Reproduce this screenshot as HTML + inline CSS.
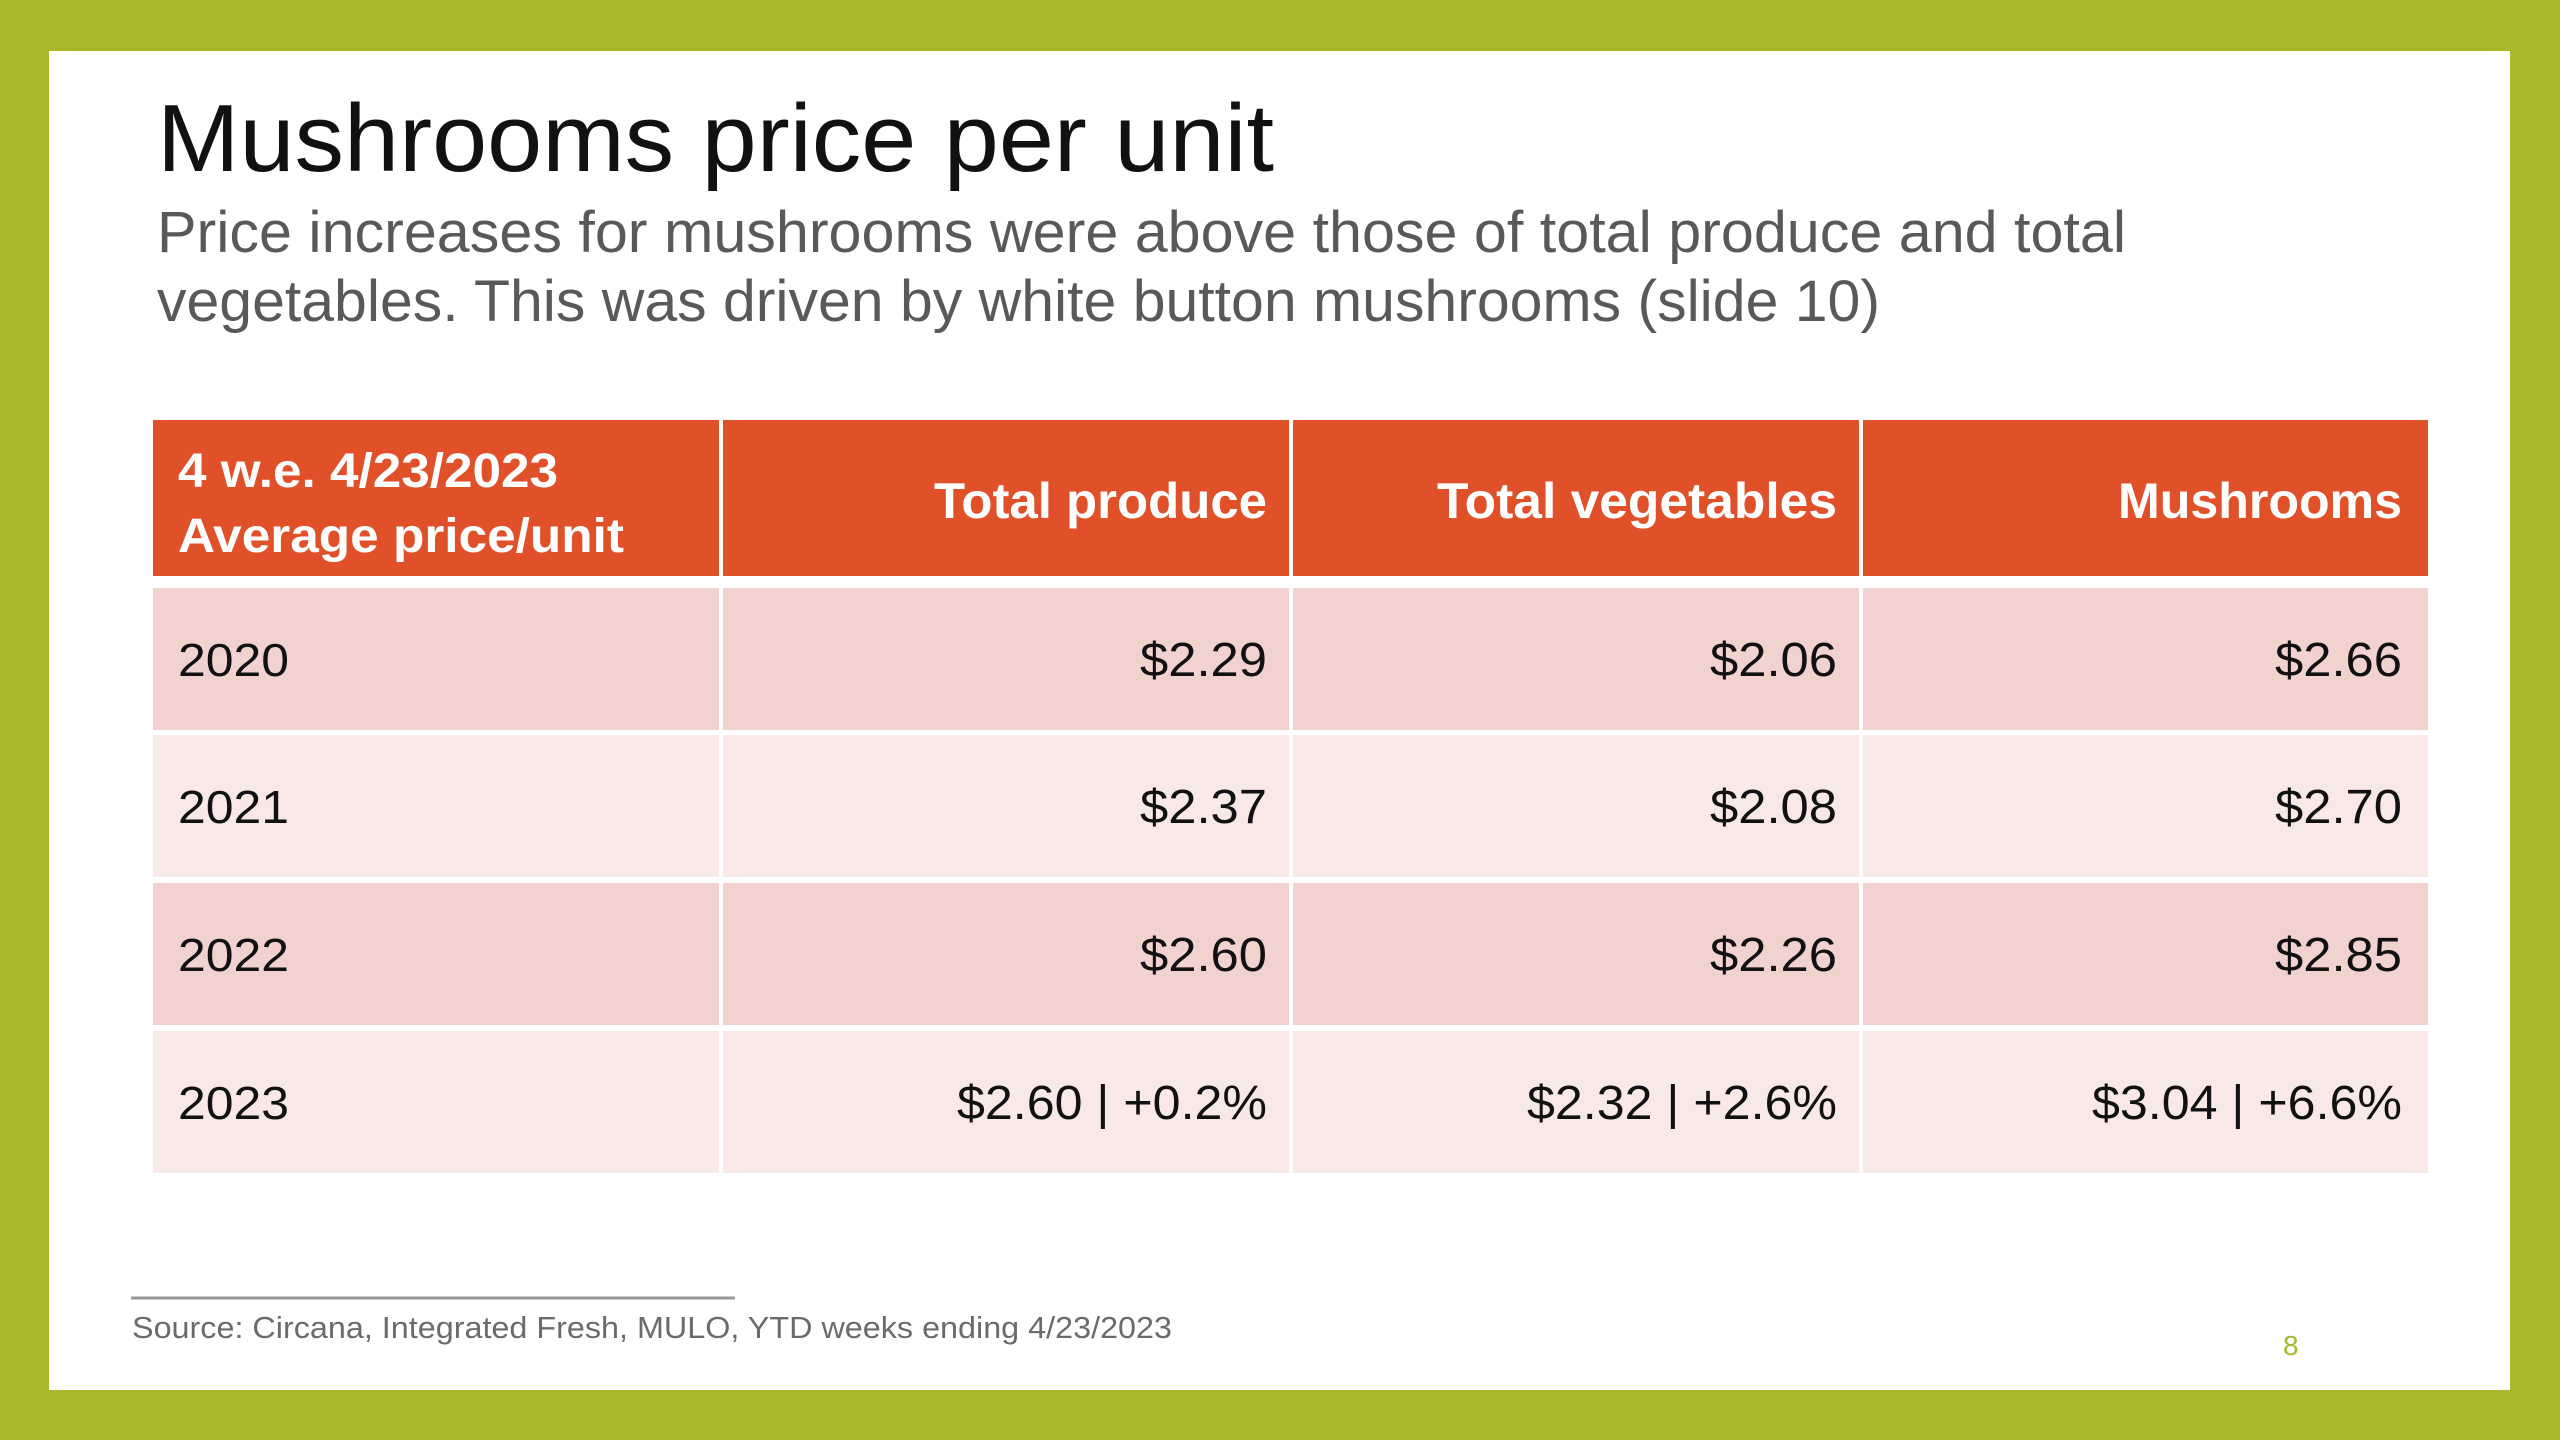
<!DOCTYPE html>
<html><head><meta charset="utf-8"><style>
html,body{margin:0;padding:0;background:#a8b82a;}
svg{display:block;font-family:"Liberation Sans",sans-serif;}
</style></head><body>
<svg id="slide" width="2560" height="1440" viewBox="0 0 2560 1440">
<rect x="0" y="0" width="2560" height="1440" fill="#a8b82a"/>
<rect x="49" y="51" width="2461" height="1339" fill="#ffffff"/>
<text x="157" y="171" font-size="96" fill="#111" textLength="1117" lengthAdjust="spacingAndGlyphs">Mushrooms price per unit</text>
<text x="157" y="252" font-size="58" fill="#595959" textLength="1969" lengthAdjust="spacingAndGlyphs">Price increases for mushrooms were above those of total produce and total</text>
<text x="157" y="321" font-size="58" fill="#595959" textLength="1723" lengthAdjust="spacingAndGlyphs">vegetables. This was driven by white button mushrooms (slide 10)</text>
<g id="table"></g>
<line x1="131" y1="1298" x2="735" y2="1298" stroke="#999" stroke-width="3"/>
<text x="132" y="1338" font-size="31" fill="#6b6b6b" textLength="1040" lengthAdjust="spacingAndGlyphs">Source: Circana, Integrated Fresh, MULO, YTD weeks ending 4/23/2023</text>
<text x="2283" y="1355" font-size="28" fill="#a8b82a">8</text>
</svg>
<script>
const columns = ["Total produce", "Total vegetables", "Mushrooms"];
const years = ["2020", "2021", "2022", "2023"];
const produce = ["$2.29", "$2.37", "$2.60", "$2.60 | +0.2%"];
const vegetables = ["$2.06", "$2.08", "$2.26", "$2.32 | +2.6%"];
const mushrooms = ["$2.66", "$2.70", "$2.85", "$3.04 | +6.6%"];

const NS = "http://www.w3.org/2000/svg";
const g = document.getElementById("table");
const colX = [153, 723, 1293, 1863, 2428];
const headTop = 420, headBot = 576;
const rowTops = [588, 735, 883, 1031];
const rowH = 142;
function mk(tag, attrs) { const e = document.createElementNS(NS, tag); for (const k in attrs) e.setAttribute(k, attrs[k]); g.appendChild(e); return e; }
function textW(s, size) { let w = 0; for (const c of s) { w += (c === ' ' ? 0.26 : c === '|' ? 0.3 : c === '.' ? 0.26 : c === '%' ? 0.8 : c === '+' ? 0.55 : 0.54); } return w * size; }
// header
for (let c = 0; c < 4; c++) {
  const r = mk("rect", { x: colX[c], y: headTop, width: colX[c + 1] - colX[c] - (c < 3 ? 4 : 0), height: headBot - headTop, fill: "#e0512a" });
  
  
}
let t = mk("text", { x: 178, y: 487, "font-size": 48, "font-weight": "bold", fill: "#fff", textLength: 380, lengthAdjust: "spacingAndGlyphs" });
t.textContent = "4 w.e. 4/23/2023";


t = mk("text", { x: 178, y: 552, "font-size": 48, "font-weight": "bold", fill: "#fff", textLength: 446, lengthAdjust: "spacingAndGlyphs" });
t.textContent = "Average price/unit";


const headW = [333, 400, 284];
columns.forEach((name, i) => {
  const tx = mk("text", { x: colX[i + 2] - 26 - (i === 2 ? 0 : 0), y: 518, "font-size": 50, "font-weight": "bold", fill: "#fff", "text-anchor": "end", textLength: headW[i], lengthAdjust: "spacingAndGlyphs" });
  tx.textContent = name;
  
  
});
const series = [produce, vegetables, mushrooms];
years.forEach((yr, r) => {
  const top = rowTops[r];
  const fill = r % 2 === 0 ? "#f2d2ce" : "#f8e8e6";
  for (let c = 0; c < 4; c++) {
    const rc = mk("rect", { x: colX[c], y: top, width: colX[c + 1] - colX[c] - (c < 3 ? 4 : 0), height: rowH, fill: fill });
    
    
  }
  const base = top + 88;
  const yt = mk("text", { x: 178, y: base, "font-size": 46, fill: "#111", textLength: 111, lengthAdjust: "spacingAndGlyphs" });
  yt.textContent = yr;
  
  
  series.forEach((arr, i) => {
    const s = arr[r];
    const w = s.length > 6 ? 310 : 127;
    const vt = mk("text", { x: colX[i + 2] - 26, y: base, "font-size": 48, fill: "#111", "text-anchor": "end", textLength: w, lengthAdjust: "spacingAndGlyphs" });
    vt.textContent = s;
    
    
  });
});
</script>
</body></html>
